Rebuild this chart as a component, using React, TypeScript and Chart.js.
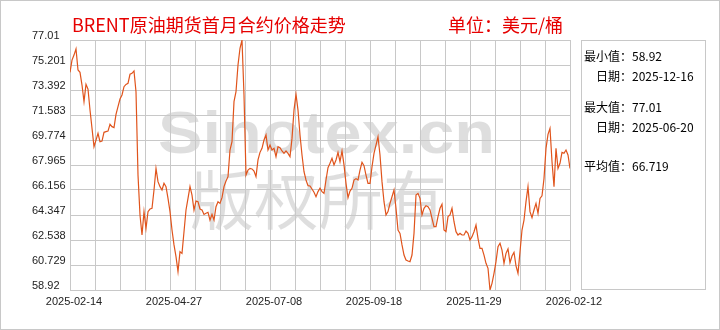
import { useEffect, useRef } from "react";
import { Chart, registerables } from "chart.js";

Chart.register(...registerables);

const titleText = "BRENT原油期货首月合约价格走势";
const unitText = "单位：美元/桶";
const watermarkTop = "Sinotex.cn";
const watermarkBottom = "版权所有";

const xTickLabels = ["2025-02-14", "2025-04-27", "2025-07-08", "2025-09-18", "2025-11-29", "2026-02-12"];
const yTickLabels = ["58.92", "60.729", "62.538", "64.347", "66.156", "67.965", "69.774", "71.583", "73.392", "75.201", "77.01"];

const statLabels = ["最小值：", "日期：", "最大值：", "日期：", "平均值："];
const statValues = ["58.92", "2025-12-16", "77.01", "2025-06-20", "66.719"];

const prices = [
  74.67, 75.56, 75.92, 76.36, 74.84, 74.67, 73.75, 72.55, 73.8, 73.46,
  71.94, 70.62, 69.29, 69.77, 70.26, 69.65, 69.7, 70.33, 70.38, 70.42,
  70.91, 70.74, 70.67, 71.63, 72.19, 72.74, 73.03, 73.63, 73.8, 73.87,
  74.53, 74.6, 74.77, 73.27, 67.24, 64.35, 62.9, 64.59, 63.38, 64.59,
  64.78, 64.83, 66.16, 67.72, 66.76, 66.4, 66.16, 66.64, 66.4, 65.55,
  64.59, 63.26, 62.18, 61.33, 60.25, 61.69, 61.57, 63.14, 64.71, 65.55,
  66.4, 65.79, 64.71, 65.36, 65.31, 64.78, 64.71, 64.39, 64.47, 64.54,
  63.98, 64.39, 63.98, 64.95, 65.31, 65.19, 65.6, 66.4, 66.81, 67.12,
  69.05, 69.65, 72.55, 73.27, 75.2, 76.41, 77.01, 73.03, 67.24, 67.6,
  67.72, 67.68, 67.53, 67.12, 68.33, 68.88, 69.17, 69.77, 70.14, 69.05,
  69.41, 69.05, 69.17, 68.57, 69.29, 69.22, 68.98, 68.81, 68.98, 68.81,
  68.57, 69.89, 71.94, 73.08, 71.94, 70.14, 68.69, 67.48, 66.88, 66.47,
  66.45, 66.23, 65.99, 65.67, 66.04, 66.28, 66.04, 65.91, 66.88, 67.77,
  68.09, 68.45, 67.97, 68.33, 68.88, 68.21, 68.98, 67.97, 66.64, 65.6,
  66.08, 66.28, 66.88, 66.98, 66.88, 67.6, 68.16, 67.92, 67.24, 66.64,
  66.64, 67.84, 68.81, 69.41, 70.01, 68.69, 66.76, 65.31, 64.35, 64.59,
  65.19, 65.67, 66.16, 64.83, 63.26, 63.02, 62.18, 61.45, 61.09, 61.02,
  60.97, 61.45, 63.02, 65.79, 65.91, 65.55, 64.35, 64.83, 65.02, 64.95,
  64.71, 64.11, 63.5, 63.5, 64.23, 64.83, 65.12, 63.26, 63.14, 64.23,
  64.35, 64.83, 63.86, 63.14, 62.9, 63.02, 62.9, 62.9, 63.19, 63.02,
  62.54, 62.78, 63.14, 63.62, 62.66, 61.93, 61.93, 61.45, 60.85, 60.49,
  58.92, 59.4, 60.13, 60.97, 62.06, 62.3, 61.81, 60.85, 61.57, 61.89,
  60.9, 61.38, 61.65, 60.66, 60.13, 61.69, 63.26, 63.98, 65.31, 66.4,
  64.59, 64.15, 64.71, 65.19, 64.47, 65.55, 65.74, 66.98, 69.17, 70.18,
  70.62, 68.21, 66.4, 69.17, 67.72, 68.09, 68.88, 68.81, 69.05, 68.69, 67.72,
];

const GRID = "#c8c8c8";
const CJK = '"Noto Sans CJK SC", sans-serif';

const decorPlugin = {
  id: "decor",
  beforeDraw(chart: any) {
    const ctx = chart.ctx as CanvasRenderingContext2D;
    ctx.save();
    ctx.fillStyle = "#ffffff";
    ctx.fillRect(0, 0, chart.width, chart.height);
    // watermark
    ctx.fillStyle = "rgba(0,0,0,0.13)";
    ctx.textBaseline = "alphabetic";
    ctx.textAlign = "left";
    ctx.font = 'bold 60px "Liberation Sans", Arial, sans-serif';
    const w1 = ctx.measureText(watermarkTop).width;
    ctx.save();
    ctx.translate(158, 153);
    ctx.scale(337 / w1, 1);
    ctx.fillText(watermarkTop, 0, 0);
    ctx.restore();
    ctx.font = `64px ${CJK}`;
    ctx.textBaseline = "middle";
    const w2 = ctx.measureText(watermarkBottom).width;
    ctx.save();
    ctx.translate(190, 200);
    ctx.scale(257 / w2, 1);
    ctx.fillText(watermarkBottom, 0, 0);
    ctx.restore();
    ctx.restore();
  },
  afterDraw(chart: any) {
    const ctx = chart.ctx as CanvasRenderingContext2D;
    ctx.save();
    // outer border
    ctx.strokeStyle = GRID;
    ctx.lineWidth = 1;
    ctx.strokeRect(0.5, 0.5, chart.width - 1, chart.height - 1);
    // stats box
    ctx.strokeRect(581.5, 40.5, 124, 249);
    // title
    ctx.fillStyle = "#e60000";
    ctx.font = `18px ${CJK}`;
    ctx.textBaseline = "middle";
    ctx.textAlign = "left";
    ctx.fillText(titleText, 72, 25);
    ctx.fillText(unitText, 448, 25);
    // stats
    ctx.fillStyle = "#000000";
    ctx.font = `12px ${CJK}`;
    const ys = [56, 76, 107, 127, 166];
    const xs = [584, 596, 584, 596, 584];
    for (let i = 0; i < statLabels.length; i++) {
      ctx.fillText(statLabels[i] + statValues[i], xs[i], ys[i]);
    }
    ctx.restore();
  },
};

export default function App() {
  const ref = useRef<HTMLCanvasElement | null>(null);
  useEffect(() => {
    if (!ref.current) return;
    const last = prices.length - 1;
    const chart = new Chart(ref.current, {
      type: "line",
      data: {
        datasets: [
          {
            data: prices.map((v, i) => ({ x: i, y: v })),
            borderColor: "#e0541c",
            borderWidth: 1.2,
            pointRadius: 0,
            tension: 0,
            fill: false,
          },
        ],
      },
      options: {
        animation: false,
        responsive: false,
        devicePixelRatio: 1,
        events: [],
        layout: { padding: { left: 32, right: 150, top: 40, bottom: 0 } },
        plugins: { legend: { display: false }, tooltip: { enabled: false }, title: { display: false } },
        scales: {
          x: {
            type: "linear",
            min: 0,
            max: last,
            afterBuildTicks: (scale: any) => {
              scale.ticks = Array.from({ length: 21 }, (_, i) => ({ value: (i * last) / 20 }));
            },
            afterFit: (scale: any) => {
              scale.height = 40;
            },
            grid: { color: GRID, lineWidth: 1, drawTicks: false },
            border: { display: true, color: GRID },
            ticks: {
              autoSkip: false,
              maxRotation: 0,
              padding: 5,
              labelOffset: 4,
              color: "#222",
              font: { family: '"Liberation Sans", Arial, sans-serif', size: 11 },
              callback: (_v: any, i: number) => (i % 4 === 0 ? xTickLabels[i / 4] : ""),
            },
          },
          y: {
            type: "linear",
            min: Number(yTickLabels[0]),
            max: Number(yTickLabels[yTickLabels.length - 1]),
            afterBuildTicks: (scale: any) => {
              scale.ticks = yTickLabels.map((t) => ({ value: Number(t) }));
            },
            afterFit: (scale: any) => {
              scale.width = 38;
            },
            grid: { color: GRID, lineWidth: 1, drawTicks: false },
            border: { display: true, color: GRID },
            ticks: {
              crossAlign: "far",
              padding: 0,
              labelOffset: -4,
              color: "#222",
              font: { family: '"Liberation Sans", Arial, sans-serif', size: 11 },
              callback: (_v: any, i: number) => yTickLabels[i],
            },
          },
        },
      },
      plugins: [decorPlugin],
    } as any);
    return () => chart.destroy();
  }, []);
  return (
    <canvas
      ref={ref}
      width={720}
      height={330}
      style={{ position: "absolute", left: 0, top: 0, display: "block" }}
    />
  );
}
